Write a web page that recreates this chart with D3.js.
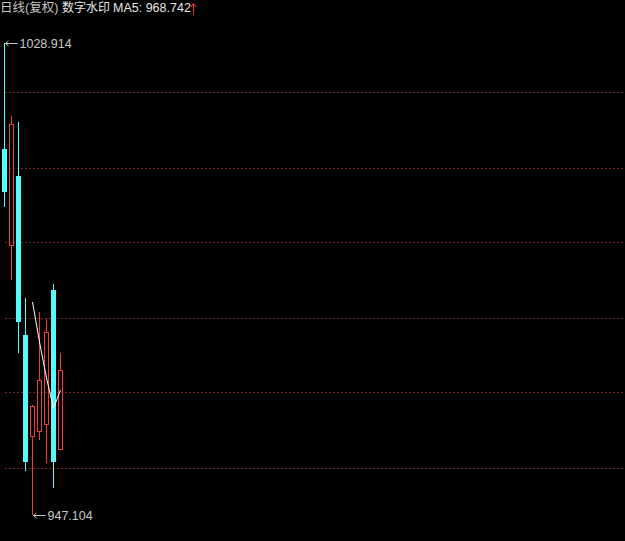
<!DOCTYPE html>
<html><head><meta charset="utf-8">
<script src="https://cdn.jsdelivr.net/npm/d3@7/dist/d3.min.js"></script>
<style>html,body{margin:0;padding:0;background:#000;overflow:hidden}</style>
</head><body>
<svg id="c" width="625" height="541"></svg>
<script>
// ---- data ----
const days   = [1, 2, 3, 4, 5, 6, 7, 8, 9];
const open   = [1010.54, 993.73, 1005.86, 978.30, 960.62, 961.49, 962.70, 986.10, 958.37];
const high   = [1028.914, 1016.26, 1015.22, 984.72, 966.17, 982.29, 981.08, 987.14, 975.18];
const low    = [1000.49, 987.84, 975.18, 954.73, 947.104, 960.10, 956.12, 951.78, 958.30];
const close  = [1003.09, 1014.88, 980.56, 956.29, 966.00, 970.50, 978.82, 956.29, 972.24];
const ma5    = [null, null, null, null, 984.02, 977.09, 970.85, 965.65, 968.742];
const titleParts = ["日线(复权)", "数字水印", "MA5: 968.742"];
const maxLabel = "1028.914", minLabel = "947.104";

// ---- layout ----
const W = 625, H = 541;
const svg = d3.select("#c");
svg.append("rect").attr("width", W).attr("height", H).attr("fill", "#000");

const y = d3.scaleLinear().domain([947.104, 1028.914]).range([515, 43]);
const x = d3.scaleLinear().domain([0, days.length - 1]).range([4.5, 60.5]);
const py = v => Math.round(y(v));

// grid lines: equal divisions of the panel
const gridYs = d3.range(1, 7).map(i => Math.round((17 + i * 75) / 2) * 2);
svg.append("g").selectAll("line").data(gridYs).join("line")
  .attr("x1", 5).attr("x2", W).attr("y1", d => d + 0.5).attr("y2", d => d + 0.5)
  .attr("stroke", "#7a2020").attr("stroke-width", 1).attr("stroke-dasharray", "2,2")
  .attr("shape-rendering", "crispEdges");

const CY = "#54fcfc", RD = "#f03c3c";
const g = svg.append("g");
days.forEach((d, i) => {
  const cx = x(i);
  const up = close[i] >= open[i];
  const top = py(Math.max(open[i], close[i]));
  const bot = py(Math.min(open[i], close[i]));
  const hi = py(high[i]), lo = py(low[i]);
  if (up) {
    if (hi < top) g.append("line").attr("x1", cx).attr("x2", cx).attr("y1", hi).attr("y2", top).attr("stroke", RD);
    if (lo > bot) g.append("line").attr("x1", cx).attr("x2", cx).attr("y1", bot).attr("y2", lo).attr("stroke", RD);
    g.append("rect").attr("x", cx - 2).attr("y", top + 0.5).attr("width", 4).attr("height", Math.max(1, bot - top - 1))
      .attr("fill", "none").attr("stroke", RD).attr("stroke-width", 1);
  } else {
    g.append("line").attr("x1", cx).attr("x2", cx).attr("y1", hi).attr("y2", lo).attr("stroke", CY);
    g.append("rect").attr("x", cx - 2.5).attr("y", top).attr("width", 5).attr("height", Math.max(1, bot - top))
      .attr("fill", CY);
  }
});

// MA5 line
const maPts = ma5.map((v, i) => [i, v]).filter(p => p[1] !== null);
svg.append("path").datum(maPts)
  .attr("d", d3.line().x(p => x(p[0])).y(p => y(p[1])))
  .attr("fill", "none").attr("stroke", "#ffffff").attr("stroke-width", 1);

// max / min markers
const font = "'Liberation Sans', Arial, 'Noto Sans CJK SC', sans-serif";
function marker(i, v, label) {
  const cx = x(i) + 1, yy = py(v) + 0.5;
  svg.append("line").attr("x1", cx).attr("x2", cx + 12).attr("y1", yy).attr("y2", yy).attr("stroke", "#c8c8c8");
  svg.append("path").attr("d", `M${cx + 3},${yy - 2.5}L${cx},${yy}L${cx + 3},${yy + 2.5}`)
    .attr("fill", "none").attr("stroke", "#c8c8c8");
  svg.append("text").attr("x", cx + 14).attr("y", yy + 4.5).text(label)
    .attr("fill", "#c8c8c8").attr("font-size", 12.5).attr("font-family", font);
}
const iMax = high.indexOf(d3.max(high)), iMin = low.indexOf(d3.min(low));
marker(iMax, high[iMax], maxLabel);
marker(iMin, low[iMin], minLabel);

// title
const t = svg.append("text").attr("y", 12).attr("font-size", 12.5).attr("font-family", font);
t.append("tspan").attr("x", 0).attr("fill", "#c8c8c8").text(titleParts[0]);
t.append("tspan").attr("x", 62).attr("font-size", 12).attr("fill", "#e8e8e8").text(titleParts[1]);
t.append("tspan").attr("x", 113).attr("fill", "#e8e8e8").text(titleParts[2]);
// red up arrow after the MA value
const ax = 193.5;
svg.append("line").attr("x1", ax).attr("x2", ax).attr("y1", 4).attr("y2", 15).attr("stroke", "#ff3232");
svg.append("path").attr("d", `M${ax - 2.5},${7}L${ax},${3.5}L${ax + 2.5},${7}`)
  .attr("fill", "none").attr("stroke", "#ff3232");
</script>
</body></html>
